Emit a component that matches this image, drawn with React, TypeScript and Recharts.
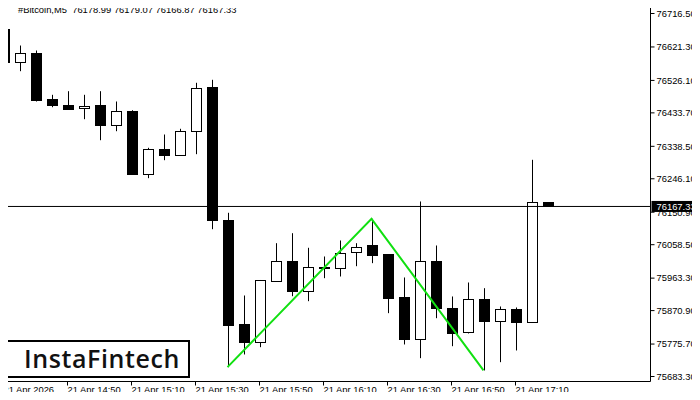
import React from "react";
import { ComposedChart, Bar, Line, XAxis, YAxis, ReferenceLine } from "recharts";

// M5 candles, 21 Apr 14:30 .. 17:20
const times = [
  "14:30", "14:35", "14:40", "14:45", "14:50", "14:55", "15:00", "15:05", "15:10", "15:15",
  "15:20", "15:25", "15:30", "15:35", "15:40", "15:45", "15:50", "15:55", "16:00", "16:05",
  "16:10", "16:15", "16:20", "16:25", "16:30", "16:35", "16:40", "16:45", "16:50", "16:55",
  "17:00", "17:05", "17:10", "17:15", "17:20",
];
const open = [
  76671.0, 76577.9, 76603.5, 76474.6, 76457.5, 76448.1, 76454.7, 76399.7, 76440.4, 76259.1,
  76331.4, 76313.2, 76381.5, 76508.7, 76130.2, 75831.4, 75781.0, 75955.8, 76010.7, 75927.3,
  75995.6, 75991.6, 76037.2, 76056.2, 76030.6, 75908.2, 75790.7, 76013.5, 75876.9, 75808.6,
  75902.5, 75841.9, 75876.1, 75837.9, 76178.99,
];
const high = [
  76694.6, 76625.4, 76611.2, 76485.1, 76495.4, 76485.1, 76495.4, 76466.1, 76441.2, 76334.3,
  76372.1, 76388.4, 76519.3, 76527.8, 76149.3, 75913.9, 75958.0, 76062.8, 76091.2, 76049.7,
  76024.9, 76070.5, 76062.8, 76132.2, 76031.5, 75965.2, 76181.5, 76056.2, 75911.1, 75950.9,
  75934.7, 75882.6, 75879.8, 76300.1, 76179.07,
];
const low = [
  76575.0, 76552.3, 76466.1, 76449.8, 76443.0, 76415.7, 76355.9, 76381.5, 76258.0, 76247.8,
  76299.0, 76312.0, 76316.1, 76102.6, 75709.9, 75746.0, 75766.8, 75955.0, 75911.9, 75897.7,
  75963.2, 75968.0, 75997.3, 76005.9, 75863.6, 75774.5, 75735.5, 75849.3, 75769.6, 75805.8,
  75700.5, 75724.1, 75757.4, 75837.0, 76166.87,
];
const close = [
  76577.9, 76603.5, 76471.7, 76456.7, 76444.1, 76453.8, 76398.6, 76439.6, 76259.1, 76331.4,
  76313.2, 76383.5, 76505.0, 76128.2, 75829.4, 75781.0, 75956.6, 76010.7, 75927.3, 75995.6,
  75992.8, 76035.5, 76052.5, 76028.6, 75906.2, 75789.6, 76013.5, 75878.4, 75806.6, 75902.5,
  75840.8, 75876.1, 75837.9, 76180.6, 76167.33,
];
// double bottom pattern: bottom, neck, bottom
const patternIdx = [14, 23, 30];
const patternVal = [75709.9, 76132.2, 75700.5];

const yTicks = [
  76716.5, 76621.3, 76526.1, 76433.7, 76338.5, 76246.1, 76150.9,
  76058.5, 75963.3, 75870.9, 75775.7, 75683.3,
];
const yDomain = [75669.1, 76745.0];

const last = times.length - 1;
const FS = 9.4;

const data = times.map((t, i) => {
  const k = patternIdx.indexOf(i);
  return {
    time: t,
    range: [low[i], high[i]],
    open: open[i],
    high: high[i],
    low: low[i],
    close: close[i],
    pattern: k >= 0 ? patternVal[k] : null,
  };
});

const Candle = (props: any) => {
  const { x, y, width, height, payload } = props;
  const cx = Math.floor(x + width / 2) + 0.5;
  const span = payload.high - payload.low;
  const py = (v: number) => (span > 0 ? y + ((payload.high - v) / span) * height : y);
  const up = payload.close >= payload.open;
  const top = Math.round(py(Math.max(payload.open, payload.close))) + 0.5;
  const bot = Math.max(top + 1, Math.round(py(Math.min(payload.open, payload.close))) + 0.5);
  return (
    <g>
      <line x1={cx} x2={cx} y1={y} y2={y + height} stroke="#000" strokeWidth={1} />
      <rect
        x={cx - 5}
        y={top}
        width={10}
        height={bot - top}
        fill={up ? "#fff" : "#000"}
        stroke="#000"
        strokeWidth={1}
      />
    </g>
  );
};

const TimeTick = (props: any) => {
  const { x, y, payload } = props;
  const label = payload.value === times[0] ? "21 Apr 2026" : `21 Apr ${payload.value}`;
  return (
    <text x={x} y={y} dy="0.75em" fontSize={FS} fill="#000" textAnchor="start">
      {label}
    </text>
  );
};

const PriceLabel = (props: any) => {
  const { viewBox } = props;
  const { x, y, width } = viewBox;
  return (
    <g>
      <rect x={x + width + 1} y={y - 5.5} width={49} height={11} fill="#000" />
      <text x={x + width + 6} y={y + 3.5} fontSize={FS} fill="#fff">
        {close[last].toFixed(2)}
      </text>
    </g>
  );
};

export default function App() {
  const header = `#Bitcoin,M5  ${open[last].toFixed(2)} ${high[last].toFixed(2)} ${low[last].toFixed(2)} ${close[last].toFixed(2)}`;
  const pad = { left: -8, right: 95 };
  return (
    <div style={{ position: "relative", margin: -8, width: 700, height: 400, background: "#fff", fontFamily: "'Liberation Sans', Arial, sans-serif" }}>
      <ComposedChart
        width={700}
        height={400}
        data={data}
        margin={{ top: 3.5, right: 0, bottom: 0, left: 3.5 }}
      >
        <XAxis
          dataKey="time"
          padding={pad}
          interval={3}
          height={18.5}
          tickSize={4}
          tickMargin={0}
          tickLine={{ stroke: "#000" }}
          axisLine={{ stroke: "#000" }}
          tick={<TimeTick />}
        />
        <XAxis
          xAxisId="top"
          orientation="top"
          dataKey="time"
          padding={pad}
          height={0}
          tick={false}
          tickLine={false}
          axisLine={{ stroke: "#000" }}
        />
        <YAxis
          orientation="right"
          width={49.5}
          domain={yDomain}
          allowDataOverflow
          ticks={yTicks}
          interval={0}
          tickSize={4}
          tickMargin={2}
          tickLine={{ stroke: "#000" }}
          axisLine={{ stroke: "#000" }}
          tick={{ fontSize: FS, fill: "#000" }}
          tickFormatter={(v: number) => v.toFixed(2)}
        />
        <YAxis
          yAxisId="left"
          orientation="left"
          width={0}
          domain={yDomain}
          tick={false}
          tickLine={false}
          axisLine={{ stroke: "#000" }}
        />
        <Bar dataKey="range" barSize={11} shape={<Candle />} isAnimationActive={false} />
        <Line
          dataKey="pattern"
          stroke="#11e011"
          strokeWidth={2}
          dot={false}
          connectNulls
          isAnimationActive={false}
        />
        <ReferenceLine y={close[last]} stroke="#000" strokeWidth={1} label={<PriceLabel />} />
      </ComposedChart>
      <div
        style={{
          position: "absolute",
          left: 0,
          top: 0,
          width: 240,
          height: 19,
          background: "#fff",
          fontSize: FS,
          lineHeight: "20px",
          paddingLeft: 18,
          boxSizing: "border-box",
          whiteSpace: "pre",
          color: "#000",
        }}
      >
        {header}
      </div>
      <div
        style={{
          position: "absolute",
          left: 2,
          top: 340,
          width: 188,
          height: 38,
          boxSizing: "border-box",
          border: "2px solid #000",
          background: "#fff",
          fontFamily: "'Open Sans', sans-serif",
          fontWeight: 600,
          fontSize: 25,
          lineHeight: "33px",
          paddingLeft: 20,
          letterSpacing: 0.6,
          color: "#111",
        }}
      >
        InstaFintech
      </div>
    </div>
  );
}
